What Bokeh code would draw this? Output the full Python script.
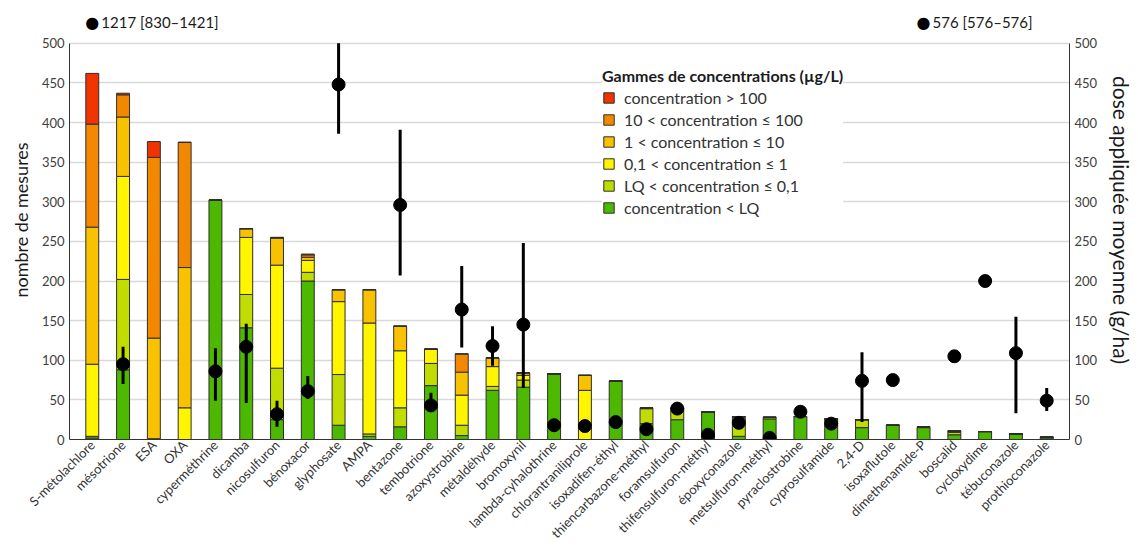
import math
from bokeh.plotting import figure
from bokeh.models import (FactorRange, Range1d, LinearAxis, Legend, LegendItem,
                          Label, ColumnDataSource, SingleIntervalTicker)
from bokeh.embed import file_html
from bokeh.resources import INLINE

NaN = float("nan")

substances = ["S-métolachlore", "mésotrione", "ESA", "OXA", "cyperméthrine", "dicamba",
              "nicosulfuron", "bénoxacor", "glyphosate", "AMPA", "bentazone", "tembotrione",
              "azoxystrobine", "métaldéhyde", "bromoxynil", "lambda-cyhalothrine",
              "chlorantraniliprole", "isoxadifen-éthyl", "thiencarbazone-méthyl",
              "foramsulfuron", "thifensulfuron-méthyl", "époxyconazole", "metsulfuron-méthyl",
              "pyraclostrobine", "cyprosulfamide", "2,4-D", "isoxaflutole", "dimethenamide-P",
              "boscalid", "cycloxydime", "tébuconazole", "prothioconazole"]

# nombre de mesures par gamme de concentration
n_lt_lq   = [2, 88, 0, 0, 302, 141, 25, 200, 18, 4, 16, 68, 5, 62, 66, 83, 0, 74, 20, 25, 35, 4, 26, 29, 26, 15, 18, 15, 6, 10, 7, 2]
n_lq_01   = [2, 114, 0, 0, 0, 42, 65, 11, 64, 3, 24, 28, 13, 5, 9, 0, 0, 0, 19, 14, 0, 22, 2, 0, 0, 10, 0, 1, 3, 0, 0, 1]
n_01_1    = [91, 130, 1, 40, 0, 72, 130, 15, 92, 140, 72, 18, 38, 25, 6, 0, 62, 0, 0, 0, 0, 2, 0, 0, 0, 0, 0, 0, 1, 0, 0, 0]
n_1_10    = [173, 75, 127, 177, 0, 11, 34, 4, 15, 42, 31, 0, 29, 11, 3, 0, 19, 0, 1, 1, 0, 1, 0, 0, 0, 0, 0, 0, 1, 0, 0, 0]
n_10_100  = [130, 28, 228, 158, 0, 0, 1, 3, 0, 0, 0, 0, 23, 0, 0, 0, 0, 0, 0, 0, 0, 0, 0, 0, 0, 0, 0, 0, 0, 0, 0, 0]
n_gt_100  = [64, 2, 20, 0, 0, 0, 0, 1, 0, 0, 0, 0, 0, 0, 0, 0, 0, 0, 0, 0, 0, 0, 0, 0, 0, 0, 0, 0, 0, 0, 0, 0]

# dose appliquée moyenne (g/ha) et intervalle
dose_moy = [1217, 95, NaN, NaN, 86, 117, 32, 61, 448, NaN, 296, 43, 164, 118, 145, 18, 17, 22, 13, 39, 6, 21, 2, 35, 20, 74, 75, 576, 105, 200, 109, 49]
dose_min = [830, 70, NaN, NaN, 49, 46, 16, 51, 386, NaN, 207, 39, 116, 93, 65, NaN, NaN, NaN, NaN, NaN, NaN, NaN, NaN, NaN, NaN, 22, NaN, 576, NaN, NaN, 33, 36]
dose_max = [1421, 117, NaN, NaN, 115, 146, 49, 80, 500, NaN, 391, 59, 219, 143, 248, NaN, NaN, NaN, NaN, NaN, NaN, NaN, NaN, NaN, NaN, 110, NaN, 576, NaN, NaN, 155, 65]

series_keys = ["lt_lq", "lq_01", "c01_1", "c1_10", "c10_100", "gt100"]
series_labels = ["concentration < LQ", "LQ < concentration ≤ 0,1", "0,1 < concentration ≤ 1",
                 "1 < concentration ≤ 10", "10 < concentration ≤ 100", "concentration > 100"]
series_colors = ["#4CB800", "#C0DC00", "#FFF500", "#F8C200", "#F28800", "#F03400"]

FONT = "Lato"
AXIS_MAX = 500
Y_TOP = 554   # room above the axes for the off-scale values

src = ColumnDataSource(dict(substance=substances, lt_lq=n_lt_lq, lq_01=n_lq_01, c01_1=n_01_1,
                            c1_10=n_1_10, c10_100=n_10_100, gt100=n_gt_100))
dsrc = ColumnDataSource(dict(substance=substances, moy=dose_moy, lo=dose_min, hi=dose_max))

p = figure(x_range=FactorRange(factors=substances, range_padding=0.24, range_padding_units="absolute"),
           y_range=Range1d(0, Y_TOP), width=1138, height=549,
           output_backend="svg", toolbar_location=None,
           min_border_left=69, min_border_right=69, min_border_top=0, min_border_bottom=90)
p.extra_y_ranges = {"dose": Range1d(0, Y_TOP)}
p.outline_line_color = None
p.background_fill_color = "white"

# grid
p.xgrid.grid_line_color = None
p.ygrid.grid_line_color = "#D9D9D9"
p.ygrid.grid_line_width = 1.5

# bars
renderers = p.vbar_stack(series_keys, x="substance", width=0.42, source=src,
                         fill_color=series_colors, line_color="#2E2E2E", line_width=1)

# dose points and ranges
p.segment(x0="substance", y0="lo", x1="substance", y1="hi", source=dsrc,
          line_color="black", line_width=3, y_range_name="dose")
p.scatter(x="substance", y="moy", source=dsrc, size=13, color="black", y_range_name="dose")

# axes
yl = p.yaxis[0]
yl.axis_label = "nombre de mesures"
yr = LinearAxis(y_range_name="dose", axis_label="dose appliquée moyenne (g/ha)")
p.add_layout(yr, "right")
for ax in (yl, yr):
    ax.ticker = SingleIntervalTicker(interval=50)
    ax.bounds = (0, AXIS_MAX)
    ax.axis_label_text_font = FONT
    ax.axis_label_text_font_style = "normal"
    ax.axis_label_text_color = "#1A1A1A"
    ax.major_label_text_font = FONT
    ax.major_label_text_font_size = "13px"
    ax.major_label_text_color = "#404040"
    ax.major_tick_line_color = None
    ax.minor_tick_line_color = None
    ax.major_tick_out = 0
    ax.minor_tick_out = 0
    ax.major_tick_in = 0
    ax.minor_tick_in = 0
    ax.axis_line_color = "#333333"
    ax.major_label_standoff = 5
yl.axis_label_text_font_size = "18px"
yr.axis_label_text_font_size = "21px"
p.ygrid.ticker = yl.ticker
p.ygrid.bounds = (0, AXIS_MAX)
yl.axis_label_standoff = 7
yr.axis_label_standoff = 9

xa = p.xaxis[0]
xa.major_label_orientation = math.pi / 4
xa.major_label_text_font = FONT
xa.major_label_text_font_size = "13px"
xa.major_label_text_color = "#333333"
xa.major_tick_line_color = None
xa.minor_tick_line_color = None
xa.major_tick_out = 0
xa.minor_tick_out = 0
xa.axis_line_color = "#333333"
xa.major_label_standoff = 3

# off-scale values, written above the plot (x = factor centre in the FactorRange)
for i, (d, lo, hi) in enumerate(zip(dose_moy, dose_min, dose_max)):
    if d == d and d > AXIS_MAX:
        xc = i + 0.5
        p.add_layout(Label(x=xc, y=AXIS_MAX, y_offset=21, text="●", text_align="center",
                           text_baseline="middle", text_font_size="16px", text_color="black",
                           text_font="DejaVu Sans"))
        p.add_layout(Label(x=xc, y=AXIS_MAX, x_offset=9, y_offset=21, text=f"{d} [{lo}–{hi}]",
                           text_align="left", text_baseline="middle", text_font=FONT,
                           text_font_size="15px", text_color="#1A1A1A"))

# legend
items = [LegendItem(label=lab, renderers=[r]) for lab, r in zip(series_labels, renderers)][::-1]
legend = Legend(items=items, location=(533, 222), title="Gammes de concentrations (µg/L)",
                title_text_font=FONT, title_text_font_style="bold", title_text_font_size="16px",
                title_text_color="#1A1A1A", title_standoff=2,
                label_text_font=FONT, label_text_font_size="16px", label_text_color="#333333",
                glyph_width=13, glyph_height=13, label_height=20, spacing=2, label_standoff=9,
                padding=12, border_line_color=None, background_fill_color="white",
                background_fill_alpha=1.0)
p.add_layout(legend)

open("out.html", "w").write(file_html(p, INLINE))
